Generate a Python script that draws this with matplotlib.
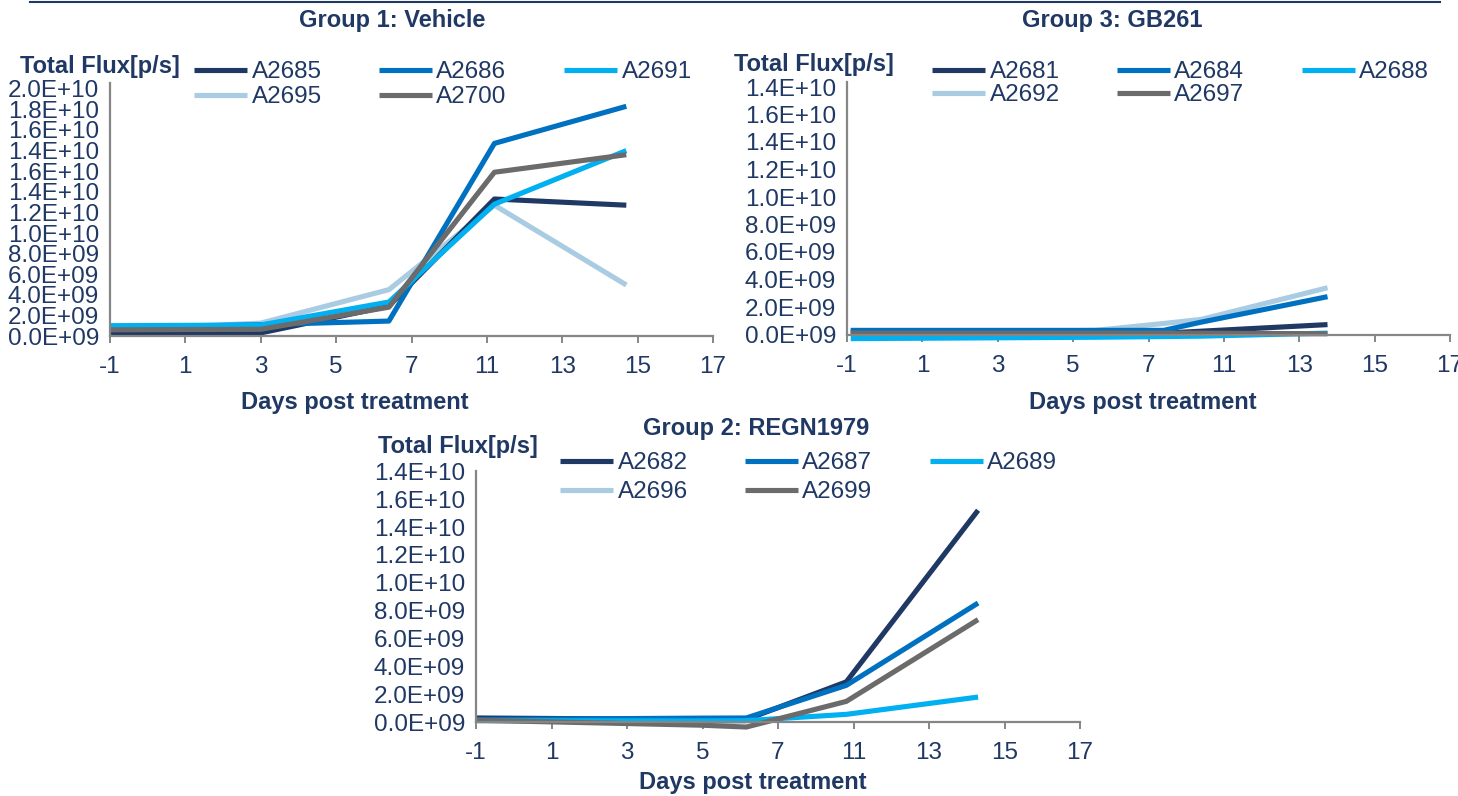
import numpy as np
import matplotlib.pyplot as plt
from matplotlib.lines import Line2D

plt.rcParams['font.family'] = ['Liberation Sans', 'DejaVu Sans']

W, H = 1458, 796
TXT = '#1f3864'
AXC = '#868686'
colors = ['#1f3864', '#0070c0', '#00b0f0', '#a9cce3', '#6b6b6b']

# x axis: evenly spaced positions, labels as printed on the chart
x_pos = [-1, 1, 3, 5, 7, 9, 11, 13, 15]
x_labels = ['-1', '1', '3', '5', '7', '11', '13', '15', '17']

# y tick labels (bottom to top), as printed
y_labels_g1 = ['0.0E+09', '2.0E+09', '4.0E+09', '6.0E+09', '8.0E+09', '1.0E+10', '1.2E+10',
               '1.4E+10', '1.6E+10', '1.4E+10', '1.6E+10', '1.8E+10', '2.0E+10']
y_labels_g3 = ['0.0E+09', '2.0E+09', '4.0E+09', '6.0E+09', '8.0E+09', '1.0E+10', '1.2E+10',
               '1.4E+10', '1.6E+10', '1.4E+10']
y_labels_g2 = y_labels_g3

# Group 1: Vehicle
days_g1 = [-1, 3, 6.4, 9.2, 12.7]
mice_g1 = ['A2685', 'A2686', 'A2691', 'A2695', 'A2700']
flux_g1 = [
    [0.35, 0.3, 2.9, 13.3, 12.7],
    [0.8, 1.1, 1.45, 18.7, 22.3],
    [1.0, 1.07, 3.3, 12.8, 18.0],
    [0.6, 1.25, 4.5, 12.7, 4.95],
    [0.6, 0.65, 2.8, 15.9, 17.6],
]

# Group 3: GB261
days_g3 = [-0.9, 5.6, 7.4, 8.4, 11.75]
mice_g3 = ['A2681', 'A2684', 'A2688', 'A2692', 'A2697']
flux_g3 = [
    [0.25, 0.1, 0.1, 0.24, 0.72],
    [0.3, 0.3, 0.3, 0.9, 2.75],
    [-0.3, -0.2, -0.15, -0.12, 0.1],
    [0.1, 0.3, 0.8, 1.1, 3.4],
    [0.1, 0.1, 0.1, 0.1, 0.05],
]

# Group 2: REGN1979
days_g2 = [-1, 5.0, 6.16, 8.81, 12.3]
mice_g2 = ['A2682', 'A2687', 'A2689', 'A2696', 'A2699']
flux_g2 = [
    [0.31, 0.2, 0.2, 2.9, 15.2],
    [0.2, 0.3, 0.31, 2.65, 8.55],
    [0.12, 0.1, 0.12, 0.57, 1.81],
    [0.12, 0.1, 0.1, np.nan, np.nan],
    [0.15, -0.21, -0.34, 1.5, 7.36],
]

fig = plt.figure(figsize=(W / 100, H / 100), dpi=100)
fig.add_artist(Line2D([30 / W, 1440 / W], [1 - 2 / H, 1 - 2 / H], color=TXT, lw=1.5))


def panel(x0, x1, y0, per, lo, hi, days, mice, flux, ylabels,
          title, title_xy, ylab_xy, xlab_xy, leg_xy, leg_sp):
    # per = pixels per 2e9 step
    bot = y0 - lo / 2 * per
    top = y0 - hi / 2 * per
    ax = fig.add_axes([x0 / W, 1 - bot / H, (x1 - x0) / W, (bot - top) / H])
    ax.patch.set_alpha(0)
    for i, (m, v) in enumerate(zip(mice, flux)):
        ax.plot(days, np.array(v) * 1e9, color=colors[i], lw=3.7, label=m,
                solid_capstyle='butt', clip_on=False, zorder=1.9 if i == 3 else 2)
    ax.set_xlim(-1, 15)
    ax.set_ylim(lo * 1e9, hi * 1e9)
    ax.set_xticks(x_pos)
    ax.set_xticklabels(x_labels)
    ax.set_yticks(np.arange(len(ylabels)) * 2e9)
    ax.set_yticklabels(ylabels)
    for s in ['top', 'right']:
        ax.spines[s].set_visible(False)
    ax.spines['bottom'].set_position(('data', 0))
    ax.spines['left'].set_bounds(0, hi * 1e9)
    for s in ['bottom', 'left']:
        ax.spines[s].set_color(AXC)
        ax.spines[s].set_linewidth(1.6)
    ax.tick_params(axis='x', direction='out', length=5, width=1.4, color=AXC,
                   labelsize=17.5, labelcolor=TXT, pad=9.5)
    ax.tick_params(axis='y', length=0, labelsize=17.5, labelcolor=TXT, pad=8)

    fig.text(title_xy[0] / W, 1 - title_xy[1] / H, title, ha='center', va='center',
             fontsize=17, fontweight='bold', color=TXT)
    fig.text(ylab_xy[0] / W, 1 - ylab_xy[1] / H, 'Total Flux[p/s]', ha='left', va='center',
             fontsize=17, fontweight='bold', color=TXT)
    fig.text(xlab_xy[0] / W, 1 - xlab_xy[1] / H, 'Days post treatment', ha='center',
             va='center', fontsize=17, fontweight='bold', color=TXT)

    h, l = ax.get_legend_handles_labels()
    order = [0, 3, 1, 4, 2]
    ax.legend([h[k] for k in order], [l[k] for k in order], ncol=3, loc='upper left',
              bbox_to_anchor=(leg_xy[0] / W, 1 - leg_xy[1] / H),
              bbox_transform=fig.transFigure, frameon=False, fontsize=17.5,
              handlelength=2.2, handletextpad=0.17, columnspacing=2.35,
              labelspacing=leg_sp, borderpad=0, borderaxespad=0, labelcolor=TXT)
    return ax


panel(110, 713, 336, 20.6, -0.4, 24.6, days_g1, mice_g1, flux_g1, y_labels_g1,
      'Group 1: Vehicle', (392, 20), (20, 66), (355, 403), (194, 61), 0.13)
panel(847, 1450, 334.5, 27.5, -0.45, 18.4, days_g3, mice_g3, flux_g3, y_labels_g3,
      'Group 3: GB261', (1112, 20), (734, 65), (1143, 402), (932, 61), 0.06)
panel(476, 1080, 722.3, 27.9, -0.45, 18.0, days_g2, mice_g2, flux_g2, y_labels_g2,
      'Group 2: REGN1979', (756, 428), (378, 446), (753, 783), (560, 452), 0.3)

fig.savefig('out.png', dpi=100)
